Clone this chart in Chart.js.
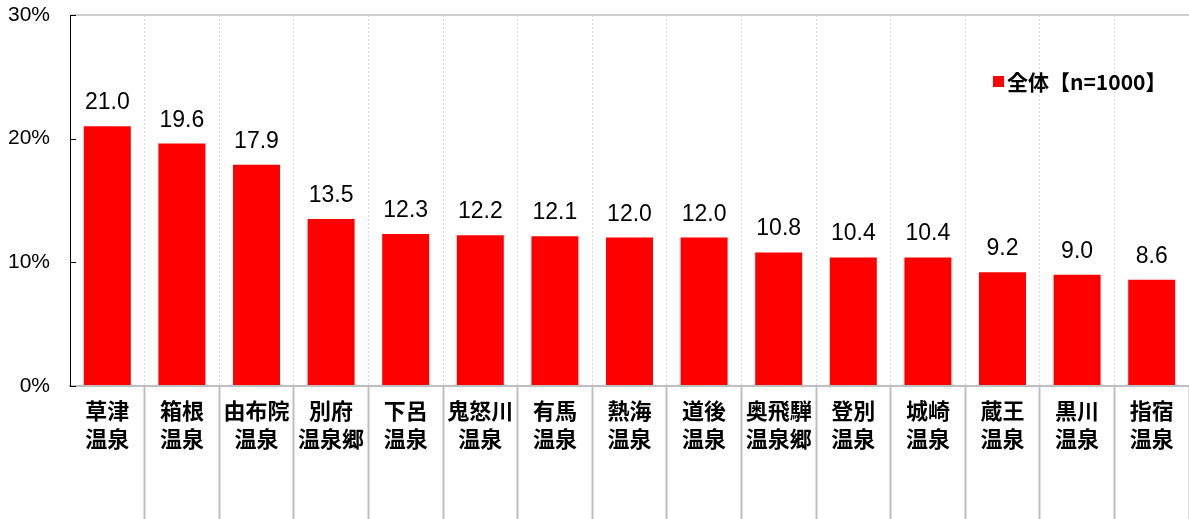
<!DOCTYPE html>
<html>
<head>
<meta charset="utf-8">
<script src="https://cdn.jsdelivr.net/npm/chart.js@4"></script>
<style>
  html, body { margin: 0; padding: 0; background: #fff; }
</style>
</head>
<body>
<canvas id="onsenChart" width="1189" height="519"></canvas>
<script>
// data
var onsenNames = [
    ['草津', '温泉'], ['箱根', '温泉'], ['由布院', '温泉'], ['別府', '温泉郷'], ['下呂', '温泉'],
    ['鬼怒川', '温泉'], ['有馬', '温泉'], ['熱海', '温泉'], ['道後', '温泉'], ['奥飛騨', '温泉郷'],
    ['登別', '温泉'], ['城崎', '温泉'], ['蔵王', '温泉'], ['黒川', '温泉'], ['指宿', '温泉']
];
var allShare = [21.0, 19.6, 17.9, 13.5, 12.3, 12.2, 12.1, 12.0, 12.0, 10.8, 10.4, 10.4, 9.2, 9.0, 8.6];
var seriesName = '全体【n=1000】';
var yTicks = [0, 10, 20, 30];

var jpFont = '"Noto Sans CJK JP", sans-serif';
var numFont = '"Liberation Sans", Arial, sans-serif';

// value labels above each bar
var valueLabels = {
    id: 'valueLabels',
    afterDatasetsDraw: function(chart) {
        var ctx = chart.ctx;
        var meta = chart.getDatasetMeta(0);
        ctx.save();
        ctx.fillStyle = '#000';
        ctx.font = '23px ' + numFont;
        ctx.textAlign = 'center';
        ctx.textBaseline = 'alphabetic';
        meta.data.forEach(function(bar, i) {
            ctx.fillText(allShare[i].toFixed(1), bar.x, bar.y - 17);
        });
        ctx.restore();
    }
};

// little inward tick marks on the value axis
var innerTicks = {
    id: 'innerTicks',
    afterDraw: function(chart) {
        var ctx = chart.ctx;
        var ys = chart.scales.y;
        ctx.save();
        ctx.strokeStyle = '#000';
        ctx.lineWidth = 1;
        ys.ticks.forEach(function(t) {
            var py = Math.round(ys.getPixelForValue(t.value)) + 0.5;
            ctx.beginPath();
            ctx.moveTo(ys.right, py);
            ctx.lineTo(ys.right + 6, py);
            ctx.stroke();
        });
        ctx.restore();
    }
};

// legend sits inside the plot, top right
var innerLegend = {
    id: 'innerLegend',
    afterDraw: function(chart) {
        var ctx = chart.ctx;
        var ds = chart.data.datasets[0];
        var area = chart.chartArea;
        var x = area.right - 196, y = area.top + 66;
        ctx.save();
        ctx.fillStyle = ds.backgroundColor;
        ctx.fillRect(x, y - 5, 11, 11);
        ctx.fillStyle = '#000';
        ctx.font = 'bold 21px ' + jpFont;
        ctx.textAlign = 'left';
        ctx.textBaseline = 'middle';
        ctx.fillText(ds.label, x + 14, y + 1);
        ctx.restore();
    }
};

var canvas = document.getElementById('onsenChart');
var onsenChart = new Chart(canvas.getContext('2d'), {
    type: 'bar',
    data: {
        labels: onsenNames,
        datasets: [{
            label: seriesName,
            data: allShare,
            backgroundColor: '#ff0000',
            barPercentage: 0.63,
            categoryPercentage: 1.0
        }]
    },
    options: {
        responsive: false,
        animation: false,
        layout: { padding: { top: 15, right: 0, left: 0, bottom: 0 } },
        plugins: {
            legend: { display: false },
            tooltip: { enabled: false }
        },
        scales: {
            x: {
                afterFit: function(s) { s.height = 133; },
                grid: {
                    offset: true,
                    color: '#d9d9d9',
                    lineWidth: 1,
                    drawTicks: true,
                    tickLength: 133,
                    tickWidth: 2,
                    tickBorderDash: [],
                    tickColor: function(c) { return c.index === 0 ? 'rgba(0,0,0,0)' : '#c0c0c0'; }
                },
                border: { display: true, color: '#bfbfbf', width: 2, dash: [2, 2] },
                ticks: {
                    autoSkip: false,
                    maxRotation: 0,
                    padding: -122,
                    color: '#000',
                    font: { family: jpFont, size: 22, weight: 'bold', lineHeight: 1.27 }
                }
            },
            y: {
                min: 0,
                max: 30,
                afterFit: function(s) {
                    s.width = 70;
                    s.paddingTop = 0;
                    s.paddingBottom = 0;
                },
                afterBuildTicks: function(s) { s.ticks = yTicks.map(function(v) { return { value: v }; }); },
                grid: {
                    drawTicks: false,
                    color: function(c) { return c.tick && c.tick.value === 30 ? '#d0d0d0' : 'rgba(0,0,0,0)'; },
                    lineWidth: 2
                },
                border: { display: true, color: '#000', width: 1 },
                ticks: {
                    padding: 20,
                    color: '#000',
                    font: { family: numFont, size: 21 },
                    callback: function(v) { return v + '%'; }
                }
            }
        }
    },
    plugins: [valueLabels, innerTicks, innerLegend]
});
</script>
</body>
</html>
